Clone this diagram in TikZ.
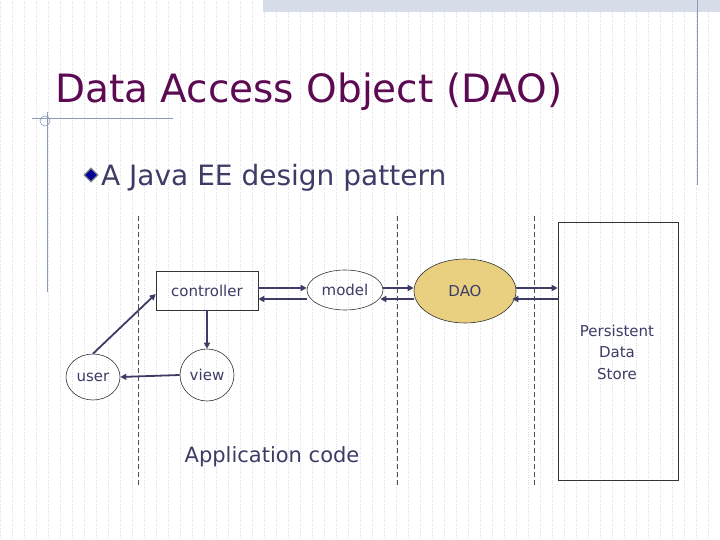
\documentclass[tikz,border=0pt]{standalone}
\usepackage{fontspec}
\setmainfont{DejaVu Sans}
\usetikzlibrary{shapes.geometric,arrows.meta,patterns}
\definecolor{ink}{HTML}{3C3C66}
\definecolor{ttl}{HTML}{5C0A52}
\definecolor{deco}{HTML}{8A9ABD}
\definecolor{daofill}{HTML}{E8D080}
\definecolor{gridc}{HTML}{DCDCE4}
\tikzset{
  lbl/.style={font=\fontsize{15}{18}\selectfont, text=ink},
  conn/.style={draw=ink, line width=1.8pt, -{Triangle[length=6pt,width=6pt]}},
  sep/.style={draw=black!70, dash pattern=on 5pt off 3pt, line width=0.7pt},
  oval/.style={ellipse, draw=black!80, line width=0.6pt, lbl, inner sep=0pt}
}
\begin{document}
\begin{tikzpicture}[x=1pt,y=-1pt]
\useasboundingbox (0,0) rectangle (720,540);
\fill[white] (0,0) rectangle (720,540);
\draw[gridc, dotted, line width=0.4pt, step=12] (0,0) grid (720,540);
\fill[deco!35] (263,0) rectangle (720,12);
\draw[deco, line width=0.8pt] (697,0) -- (697,185);
\node[anchor=base west, text=ttl, font=\fontsize{39}{44}\selectfont, inner sep=0] (title) at (55,103) {Data Access Object (DAO)};
\draw[deco, line width=0.8pt] (32,118) -- (173,118);
\draw[deco, line width=0.8pt] (47,112) -- (47,292);
\draw[deco, line width=0.6pt] (45,121) circle (5);
\node[diamond, fill=blue!60!black, draw=black!50, line width=1.2pt, minimum size=14pt, inner sep=0] (bul) at (91,175) {};
\node[anchor=base west, text=ink, font=\fontsize{28}{32}\selectfont, inner sep=0] (sub) at (101,186) {A Java EE design pattern};
\coordinate (d1t) at (138,216); \coordinate (d1b) at (138,487);
\coordinate (d2t) at (397,216); \coordinate (d2b) at (397,487);
\coordinate (d3t) at (534,216); \coordinate (d3b) at (534,487);
\draw[sep] (d1t) -- (d1b);
\draw[sep] (d2t) -- (d2b);
\draw[sep] (d3t) -- (d3b);
\node[draw=black!80, line width=0.6pt, lbl, minimum width=102pt, minimum height=39pt, inner sep=0] (ctrl) at (207,290.5) {controller};
\node[oval, minimum width=76pt, minimum height=40pt] (model) at (345,290) {model};
\node[oval, fill=daofill, minimum width=102pt, minimum height=64pt] (dao) at (465,291) {DAO};
\node[draw=black!80, line width=0.6pt, minimum width=120pt, minimum height=258pt] (store) at (618,351) {};
\node[lbl, align=center, font=\fontsize{15}{21.5}\selectfont] (storet) at (617,352) {Persistent\\Data\\Store};
\node[oval, minimum width=54pt, minimum height=46pt] (user) at (93,377) {user};
\node[oval, minimum width=54pt, minimum height=52pt] (view) at (207,375) {view};
\node[text=ink, font=\fontsize{21}{24}\selectfont] (app) at (272,457) {Application code};
\draw[conn] (ctrl.east|-0,288) -- (model.west|-0,288);
\draw[conn] (model.west|-0,299) -- (ctrl.east|-0,299);
\draw[conn] (model.east|-0,288) -- (dao.west|-0,288);
\draw[conn] (dao.west|-0,299) -- ([xshift=-3pt]model.east|-0,299);
\draw[conn] (dao.east|-0,288) -- (store.west|-0,288);
\draw[conn] (store.west|-0,299) -- ([xshift=-4pt]dao.east|-0,299);
\draw[conn] (user.north) -- (ctrl.west|-0,294);
\draw[conn] (ctrl.south) -- (view.north);
\draw[conn] (view.west) -- (user.east);
\end{tikzpicture}
\end{document}
